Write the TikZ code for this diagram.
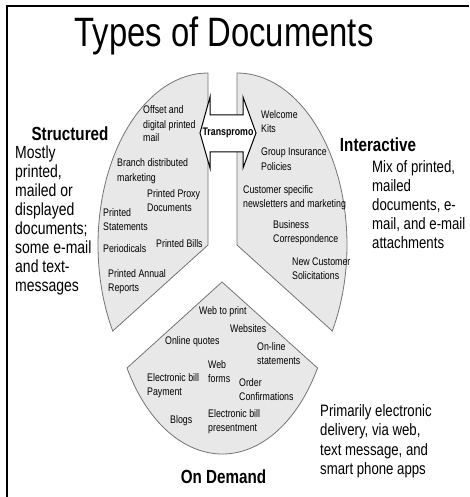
\documentclass[tikz,border=0pt]{standalone}
\usepackage{fontspec}
\setmainfont{Liberation Sans}[FakeStretch=0.8]
\begin{document}
\begin{tikzpicture}[x=1pt, y=-1pt,
   sector/.style={draw=black!55, line width=0.8pt, fill=black!9},
   item/.style={anchor=base west, inner sep=0pt, align=left, font=\fontsize{11}{14}\selectfont},
   desc/.style={anchor=base west, inner sep=0pt, align=left, font=\fontsize{17.5}{19}\selectfont},
   head/.style={anchor=base, inner sep=0pt, font=\bfseries\fontsize{19}{22}\selectfont}]
   \useasboundingbox (0,0) rectangle (469,497);
   % frame
   \draw[line width=2pt] (6.5,497) -- (6.5,6.5) -- (469,6.5);
   \node[anchor=base, inner sep=0pt, font=\fontsize{41}{44}\selectfont] (title) at (224,47) {Types of Documents};
   % the three slices
   \draw[sector] (208,245) -- (208,73) arc[start angle=-90, end angle=-210, x radius=110, y radius=172] -- cycle;
   \draw[sector] (237,245) -- (237,73) arc[start angle=-90, end angle=30, x radius=110, y radius=172] -- cycle;
   \draw[sector] (222,282) -- (127,368) arc[start angle=150, end angle=30, x radius=110, y radius=172] -- cycle;
   % structured (positions are last baselines)
   \node[item] (offset) at (143,142) {Offset and\\digital printed\\mail};
   \node[item] (branch) at (117,181) {Branch distributed\\marketing};
   \node[item] (proxy) at (147,211) {Printed Proxy\\Documents};
   \node[item] (statements) at (103,230) {Printed\\Statements};
   \node[item] (periodicals) at (103,252) {Periodicals};
   \node[item] (bills) at (156,247) {Printed Bills};
   \node[item] (annual) at (108,291) {Printed Annual\\Reports};
   % interactive
   \node[item] (welcome) at (261,133) {Welcome\\Kits};
   \node[item] (insurance) at (261,170) {Group Insurance\\Policies};
   \node[item] (custom) at (243,207) {Customer specific\\newsletters and marketing};
   \node[item] (business) at (273,242) {Business\\Correspondence};
   \node[item] (newcust) at (292,279) {New Customer\\Solicitations};
   % on demand
   \node[item] (webprint) at (199,314) {Web to print};
   \node[item] (websites) at (230,332) {Websites};
   \node[item] (quotes) at (165,344) {Online quotes};
   \node[item] (online) at (257,364) {On-line\\statements};
   \node[item] (webforms) at (208,382) {Web\\forms};
   \node[item] (ebill) at (147,395) {Electronic bill\\Payment};
   \node[item] (order) at (239,400) {Order\\Confirmations};
   \node[item] (blogs) at (170,423) {Blogs};
   \node[item] (epresent) at (208,431) {Electronic bill\\presentment};
   % transpromo arrow
   \draw[fill=white, line width=1pt] (200,133) -- (210,97) -- (210,115) -- (243,115) -- (243,97) -- (256,133)
      -- (243,168) -- (243,152) -- (210,152) -- (210,168) -- cycle;
   \node[inner sep=0pt, font=\bfseries\fontsize{11}{12}\selectfont] (transpromo) at (228,133) {Transpromo};
   % headings and notes
   \node[head] (structured) at (70,141) {Structured};
   \node[head] (interactive) at (378,152) {Interactive};
   \node[head] (ondemand) at (223.5,483) {On Demand};
   \node[desc] (structdesc) at (15,291) {Mostly\\printed,\\mailed or\\displayed\\documents;\\some e-mail\\and text-\\messages};
   \node[desc, font=\fontsize{16.5}{19}\selectfont] (interdesc) at (372,248) {Mix of printed,\\mailed\\documents, e-\\mail, and e-mail\\attachments};
   \node[desc, font=\fontsize{16.5}{19.5}\selectfont] (demanddesc) at (320,474.5) {Primarily electronic\\delivery, via web,\\text message, and\\smart phone apps};
\end{tikzpicture}
\end{document}
